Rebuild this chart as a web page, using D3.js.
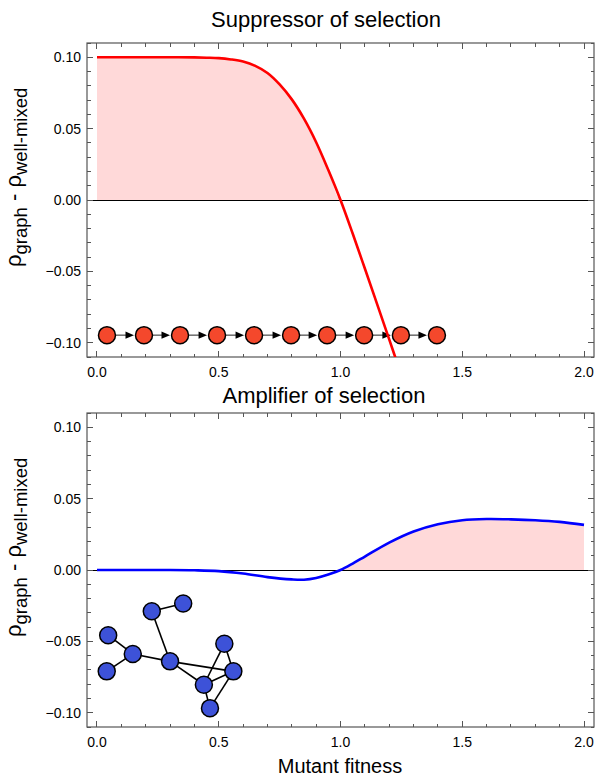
<!DOCTYPE html>
<html>
<head>
<meta charset="utf-8">
<script src="https://cdn.jsdelivr.net/npm/d3@7"></script>
<style>
  body { margin: 0; background: #fff; }
  text { font-family: "Liberation Sans", Arial, Helvetica, sans-serif; fill: #000; }
</style>
</head>
<body>
<div id="chart"></div>
<script>
// fitness values and fixation differences
const suppressor_fitness = [0, 0.1, 0.2, 0.3, 0.4, 0.45, 0.5, 0.55, 0.6, 0.65, 0.7, 0.75, 0.8, 0.85, 0.9, 0.95, 1.0, 1.05, 1.1, 1.15, 1.2, 1.25];
const suppressor_values = [0.1, 0.1, 0.1, 0.1, 0.0999, 0.0997, 0.0994, 0.0985, 0.097, 0.094, 0.089, 0.081, 0.0705, 0.057, 0.0405, 0.021, 0, -0.0235, -0.048, -0.0728, -0.0977, -0.1227];

const amplifier_fitness = [0, 0.1, 0.2, 0.3, 0.4, 0.5, 0.6, 0.7, 0.8, 0.85, 0.9, 0.95, 1.0, 1.05, 1.1, 1.2, 1.3, 1.4, 1.5, 1.6, 1.7, 1.8, 1.9, 2.0];
const amplifier_values = [0, 0, 0, 0, -0.0002, -0.0008, -0.0025, -0.005, -0.0066, -0.0068, -0.0056, -0.0032, 0, 0.0045, 0.0094, 0.0192, 0.027, 0.0321, 0.0349, 0.0357, 0.0355, 0.0349, 0.0337, 0.0316];

const x_major = [0, 0.5, 1, 1.5, 2];
const y_major = [-0.1, -0.05, 0, 0.05, 0.1];

// chain graph drawn inside the top panel (data coordinates)
const chain_x = [0.041, 0.193, 0.341, 0.493, 0.645, 0.797, 0.945, 1.097, 1.248, 1.396];
const chain_y = -0.0947;

// network graph drawn inside the bottom panel (data coordinates)
const net_x = [0.046, 0.040, 0.147, 0.225, 0.354, 0.300, 0.523, 0.560, 0.439, 0.464];
const net_y = [-0.0457, -0.0710, -0.0588, -0.0289, -0.0235, -0.0640, -0.0517, -0.0710, -0.0804, -0.0968];
const net_edges = [[0, 2], [1, 2], [2, 5], [3, 4], [3, 5], [5, 7], [5, 8], [6, 8], [6, 7], [8, 7], [8, 9], [7, 9]];

const width = 595, height = 776;
const plot_left = 87, plot_w = 507, plot_h = 314;

const svg = d3.select("#chart").append("svg")
    .attr("width", width)
    .attr("height", height);

const x = d3.scaleLinear().domain([-0.041, 2.041]).range([0, plot_w]);
const y = d3.scaleLinear().domain([-0.11, 0.11]).range([plot_h, 0]);
const smooth = d3.curveCatmullRom.alpha(0.5);

function draw_panel(top, id, xs, ys) {
    const g = svg.append("g").attr("transform", `translate(${plot_left},${top})`);

    g.append("clipPath").attr("id", id)
        .append("rect").attr("width", plot_w).attr("height", plot_h);

    const pts = xs.map((d, i) => [d, ys[i]]);

    // pink filling above zero
    g.append("path")
        .datum(pts)
        .attr("clip-path", `url(#${id})`)
        .attr("fill", "#ffd9d9")
        .attr("d", d3.area()
            .x(d => x(d[0]))
            .y0(y(0))
            .y1(d => y(Math.max(0, d[1])))
            .curve(smooth));

    // zero line
    g.append("line")
        .attr("x1", 0).attr("x2", plot_w)
        .attr("y1", y(0) + 0.5).attr("y2", y(0) + 0.5)
        .attr("stroke", "#000").attr("stroke-width", 1);

    // frame and ticks
    const minor_x = d3.range(0, 2.0001, 0.1);
    const minor_y = d3.range(-0.11, 0.11001, 0.01).map(v => Math.round(v * 100) / 100);
    const tick_color = "#555";
    const ticks = g.append("g").attr("shape-rendering", "crispEdges");
    minor_x.forEach(v => {
        const major = x_major.some(m => Math.abs(m - v) < 1e-6);
        const len = major ? 6 : 3.5;
        ticks.append("line").attr("x1", x(v)).attr("x2", x(v)).attr("y1", plot_h).attr("y2", plot_h - len)
            .attr("stroke", tick_color);
        ticks.append("line").attr("x1", x(v)).attr("x2", x(v)).attr("y1", 0).attr("y2", len)
            .attr("stroke", tick_color);
    });
    minor_y.forEach(v => {
        if (y(v) < 0 || y(v) > plot_h) return;
        const major = y_major.some(m => Math.abs(m - v) < 1e-6);
        const len = major ? 6 : 3.5;
        ticks.append("line").attr("x1", 0).attr("x2", len).attr("y1", y(v)).attr("y2", y(v))
            .attr("stroke", tick_color);
        ticks.append("line").attr("x1", plot_w).attr("x2", plot_w - len).attr("y1", y(v)).attr("y2", y(v))
            .attr("stroke", tick_color);
    });
    g.append("rect")
        .attr("width", plot_w).attr("height", plot_h)
        .attr("fill", "none").attr("stroke", tick_color).attr("stroke-width", 1.2);

    // tick labels
    g.selectAll(".xl").data(x_major).enter().append("text")
        .attr("x", d => x(d)).attr("y", plot_h + 20)
        .attr("text-anchor", "middle")
        .attr("font-size", 14)
        .text(d3.format(".1f"));
    g.selectAll(".yl").data(y_major).enter().append("text")
        .attr("x", -6).attr("y", d => y(d)).attr("dy", "0.36em")
        .attr("text-anchor", "end")
        .attr("font-size", 14)
        .text(d3.format(".2f"));

    // y label rotated
    const lab = g.append("text")
        .attr("transform", `translate(${21 - plot_left},${267 - 43}) rotate(-90)`)
        .attr("font-size", 22);
    lab.append("tspan").text("ρ");
    lab.append("tspan").attr("font-size", 18.5).attr("dy", 6).text("graph");
    lab.append("tspan").attr("dy", -6).text(" - ρ");
    lab.append("tspan").attr("font-size", 18.5).attr("dy", 6).text("well-mixed");

    return { g: g, pts: pts, id: id };
}

function draw_curve(p, color) {
    p.g.append("path")
        .datum(p.pts)
        .attr("clip-path", `url(#${p.id})`)
        .attr("fill", "none")
        .attr("stroke", color)
        .attr("stroke-width", 2.6)
        .attr("d", d3.line()
            .x(d => x(d[0]))
            .y(d => y(d[1]))
            .curve(smooth));
}

// ---- top panel: suppressor ----
const top_panel = draw_panel(43, "clip-top", suppressor_fitness, suppressor_values);

const node_r = 8.5;
const cy = y(chain_y);
for (let i = 0; i < chain_x.length - 1; i++) {
    const x1 = x(chain_x[i]) + node_r;
    const tip = x(chain_x[i + 1]) - node_r - 1.5;
    top_panel.g.append("line")
        .attr("x1", x1).attr("x2", tip - 6)
        .attr("y1", cy).attr("y2", cy)
        .attr("stroke", "#555").attr("stroke-width", 1.3);
    top_panel.g.append("path")
        .attr("d", `M${tip},${cy} L${tip - 8.5},${cy - 3.6} L${tip - 8.5},${cy + 3.6} Z`)
        .attr("fill", "#000");
}
top_panel.g.selectAll(".chain").data(chain_x).enter().append("circle")
    .attr("cx", d => x(d)).attr("cy", cy).attr("r", node_r)
    .attr("fill", "#f4482c").attr("stroke", "#000").attr("stroke-width", 1.5);

draw_curve(top_panel, "#ff0000");

// ---- bottom panel: amplifier ----
const bot_panel = draw_panel(413, "clip-bot", amplifier_fitness, amplifier_values);

bot_panel.g.selectAll(".edge").data(net_edges).enter().append("line")
    .attr("x1", d => x(net_x[d[0]])).attr("y1", d => y(net_y[d[0]]))
    .attr("x2", d => x(net_x[d[1]])).attr("y2", d => y(net_y[d[1]]))
    .attr("stroke", "#000").attr("stroke-width", 1.6);
bot_panel.g.selectAll(".node").data(net_x).enter().append("circle")
    .attr("cx", d => x(d)).attr("cy", (d, i) => y(net_y[i])).attr("r", node_r)
    .attr("fill", "#3d52d8").attr("stroke", "#000").attr("stroke-width", 1.5);

draw_curve(bot_panel, "#0000ff");

// titles
svg.append("text").attr("x", 326).attr("y", 27).attr("text-anchor", "middle")
    .attr("font-size", 22).text("Suppressor of selection");
svg.append("text").attr("x", 324).attr("y", 403).attr("text-anchor", "middle")
    .attr("font-size", 22).text("Amplifier of selection");
svg.append("text").attr("x", 340).attr("y", 773).attr("text-anchor", "middle")
    .attr("font-size", 20).text("Mutant fitness");
</script>
</body>
</html>
